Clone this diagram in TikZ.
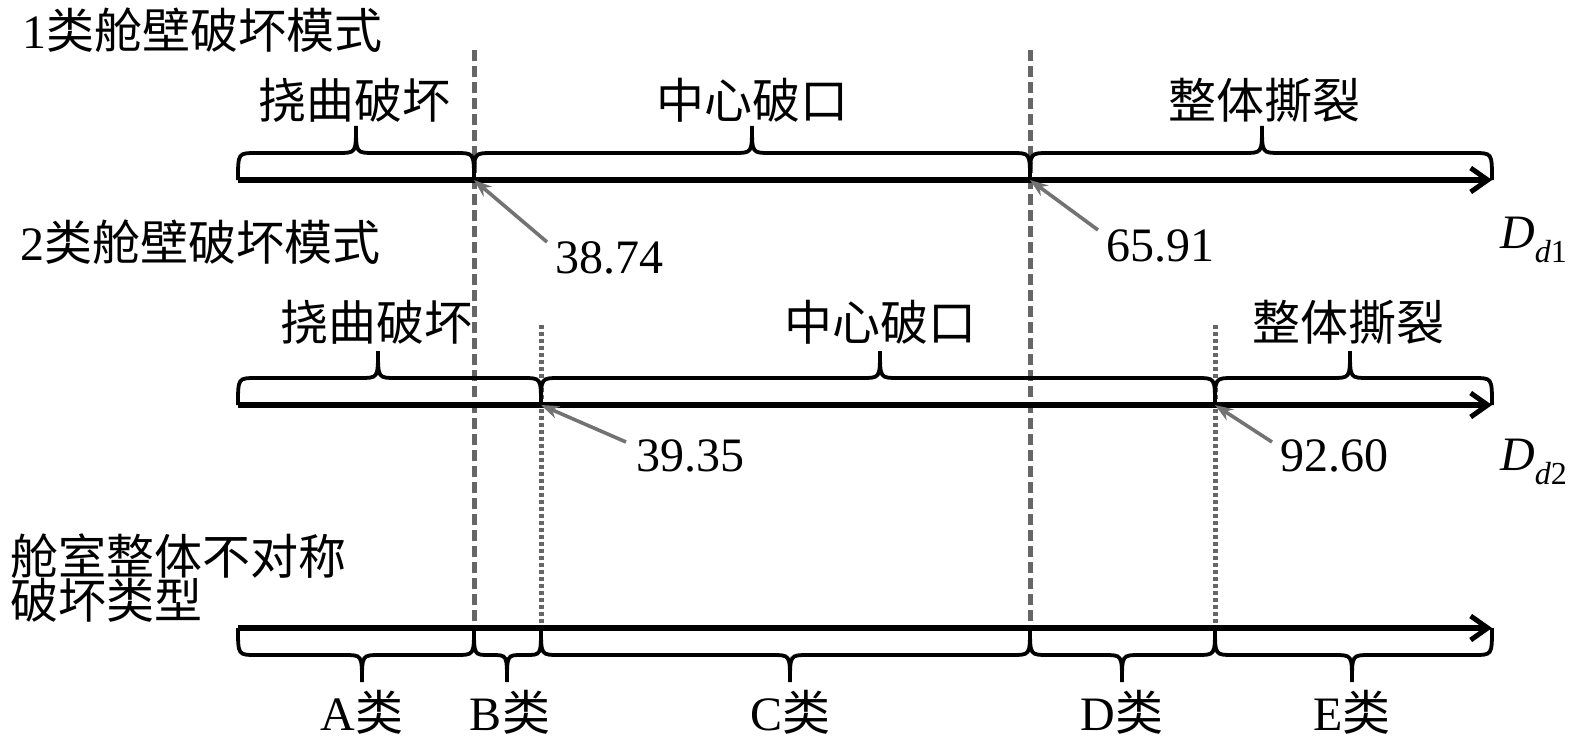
\documentclass[tikz,border=0pt]{standalone}
\usepackage{fontspec}
\setmainfont{Liberation Serif}
\newfontfamily\cjk{Noto Sans CJK SC}
\usetikzlibrary{arrows.meta}
\newcommand\zh[1]{{\cjk #1}}
% brace: x1 x2 xm y0 sign r
\newcommand\hbr[6]{%
 \draw[brc] (#1,#4) .. controls (#1,{#4+#5*27}) .. ({#1+#6},{#4+#5*27})
  -- ({#3-#6},{#4+#5*27}) .. controls (#3,{#4+#5*27}) .. (#3,{#4+#5*54})
  .. controls (#3,{#4+#5*27}) .. ({#3+#6},{#4+#5*27})
  -- ({#2-#6},{#4+#5*27}) .. controls (#2,{#4+#5*27}) .. (#2,#4);}
\tikzset{
 lab/.style={inner sep=0pt, font=\fontsize{48}{48}\selectfont},
 brc/.style={line width=3.8pt, black},
 axis/.style={line width=6pt, black, -{Straight Barb[length=17pt,width=24pt,line width=5pt]}},
 dsh/.style={line width=5pt, gray!80!black, dash pattern=on 11pt off 5pt},
 dot/.style={line width=5pt, gray!80!black, dash pattern=on 4pt off 3pt},
 ptr/.style={line width=3.6pt, gray!90!black, -{Stealth[length=18pt,width=13pt]}}
}
\begin{document}
\begin{tikzpicture}[x=1pt,y=-1pt]
\useasboundingbox (0,0) rectangle (1575,744);
% key points
\coordinate (a1s) at (238,180); \coordinate (a1e) at (1492,180);
\coordinate (a2s) at (238,405); \coordinate (a2e) at (1492,405);
\coordinate (a3s) at (238,628); \coordinate (a3e) at (1492,628);
\coordinate (p1) at (474,180); \coordinate (p2) at (1030,180);
\coordinate (q1) at (541,405); \coordinate (q2) at (1215,405);
\coordinate (p1t) at (474,50); \coordinate (p2t) at (1030,50);
\coordinate (p1b) at (474,628); \coordinate (p2b) at (1030,628);
\coordinate (q1t) at (541,325); \coordinate (q2t) at (1215,325);
\coordinate (q1b) at (541,628); \coordinate (q2b) at (1215,628);
% vertical guides
\draw[dsh] (p1t) -- (p1b);
\draw[dsh] (p2t) -- (p2b);
\draw[dot] (q1t) -- (q1b);
\draw[dot] (q2t) -- (q2b);
% axes
\draw[axis] (a1s) -- (a1e);
\draw[axis] (a2s) -- (a2e);
\draw[axis] (a3s) -- (a3e);
% braces row 1
\hbr{238}{474}{356}{180}{-1}{18}
\hbr{474}{1030}{752}{180}{-1}{18}
\hbr{1030}{1492}{1262}{180}{-1}{18}
% braces row 2
\hbr{238}{541}{378}{405}{-1}{18}
\hbr{541}{1215}{880}{405}{-1}{18}
\hbr{1215}{1492}{1350}{405}{-1}{18}
% braces row 3 (below)
\hbr{238}{474}{362}{628}{1}{18}
\hbr{474}{541}{507}{628}{1}{15}
\hbr{541}{1030}{790}{628}{1}{18}
\hbr{1030}{1215}{1122}{628}{1}{18}
\hbr{1215}{1492}{1352}{628}{1}{18}
% titles
\node[lab, anchor=west] (t1) at (22,30) {1\zh{类舱壁破坏模式}};
\node[lab, anchor=west] (t2) at (20,242) {2\zh{类舱壁破坏模式}};
\node[lab, anchor=west] (t3) at (10,556) {\zh{舱室整体不对称}};
\node[lab, anchor=west] (t4) at (10,600) {\zh{破坏类型}};
% row 1 labels
\node[lab] (l11) at (354,100) {\zh{挠曲破坏}};
\node[lab] (l12) at (752,100) {\zh{中心破口}};
\node[lab] (l13) at (1264,100) {\zh{整体撕裂}};
% row 2 labels
\node[lab] (l21) at (376,322) {\zh{挠曲破坏}};
\node[lab] (l22) at (880,322) {\zh{中心破口}};
\node[lab] (l23) at (1348,322) {\zh{整体撕裂}};
% values
\node[lab, anchor=west] (v1) at (555,258) {38.74};
\node[lab, anchor=west] (v2) at (1106,246) {65.91};
\node[lab, anchor=west] (v3) at (636,456) {39.35};
\node[lab, anchor=west] (v4) at (1280,456) {92.60};
\node[lab, anchor=west] (d1) at (1500,240) {\itshape D\raisebox{-0.3em}{\fontsize{32}{32}\selectfont d\upshape 1}};
\node[lab, anchor=west] (d2) at (1500,462) {\itshape D\raisebox{-0.3em}{\fontsize{32}{32}\selectfont d\upshape 2}};
% pointers
\draw[ptr] ([shift={(-8,-16)}]v1.west) -- (p1);
\draw[ptr] ([shift={(-8,-16)}]v2.west) -- (p2);
\draw[ptr] ([shift={(-10,-14)}]v3.west) -- (q1);
\draw[ptr] ([shift={(-8,-14)}]v4.west) -- (q2);
% classes
\node[lab] (cA) at (362,712) {A\zh{类}};
\node[lab] (cB) at (510,712) {B\zh{类}};
\node[lab] (cC) at (790,712) {C\zh{类}};
\node[lab] (cD) at (1122,712) {D\zh{类}};
\node[lab] (cE) at (1352,712) {E\zh{类}};
\end{tikzpicture}
\end{document}
